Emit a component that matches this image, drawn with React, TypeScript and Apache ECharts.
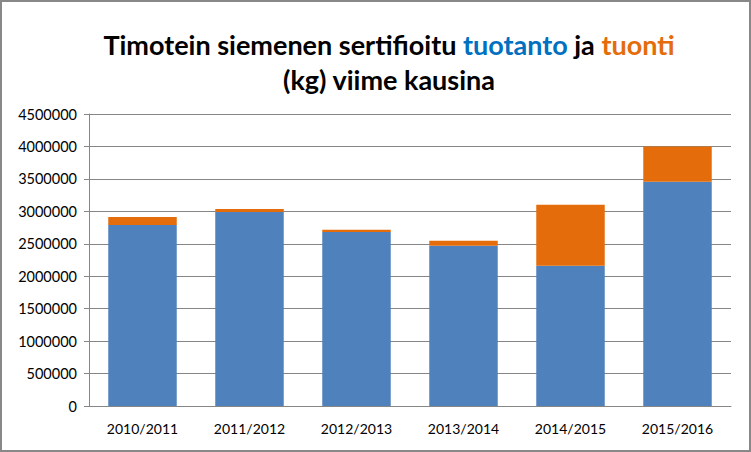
import React, { useEffect, useRef } from "react";
import * as echarts from "echarts";

const categories = ["2010/2011", "2011/2012", "2012/2013", "2013/2014", "2014/2015", "2015/2016"];
const tuotanto = [2790000, 2990000, 2680000, 2470000, 2160000, 3455000];
const tuonti = [122000, 45000, 36000, 77000, 940000, 545000];

const FONT = "Lato";

export default function App() {
  const ref = useRef<HTMLDivElement>(null);
  useEffect(() => {
    document.body.style.margin = "0";
    const chart = echarts.init(ref.current!, null, { renderer: "svg" });
    const titleStyle = { fontFamily: FONT, fontWeight: "bold", fontSize: 27, lineHeight: 35 };
    chart.setOption({
      animation: false,
      backgroundColor: "#ffffff",
      grid: { left: 89, right: 20, top: 114, bottom: 46, containLabel: false },
      xAxis: {
        type: "category",
        data: categories,
        axisLine: { show: true, lineStyle: { color: "#868686", width: 1 } },
        axisTick: { show: false },
        axisLabel: { color: "#000000", fontFamily: FONT, fontSize: 14, margin: 15 },
      },
      yAxis: {
        type: "value",
        min: 0,
        max: 4500000,
        interval: 500000,
        axisLine: { show: true, lineStyle: { color: "#868686", width: 1 } },
        axisTick: { show: true, length: 5, lineStyle: { color: "#868686" } },
        axisLabel: {
          color: "#000000",
          fontFamily: FONT,
          fontSize: 14.5,
          margin: 12,
          formatter: (v: number) => String(v),
        },
        splitLine: { show: true, lineStyle: { color: "#868686", width: 1 } },
      },
      series: [
        {
          name: "tuotanto",
          type: "bar",
          stack: "total",
          data: tuotanto,
          barWidth: "64%",
          itemStyle: { color: "#4F81BD" },
        },
        {
          name: "tuonti",
          type: "bar",
          stack: "total",
          data: tuonti,
          barWidth: "64%",
          itemStyle: { color: "#E46C0A" },
        },
      ],
      graphic: [
        {
          type: "rect",
          shape: { x: 1, y: 1, width: 749, height: 450 },
          style: { fill: "none", stroke: "#888888", lineWidth: 2 },
          silent: true,
        },
        {
          type: "text",
          x: 389,
          y: 27,
          style: {
            text: "{a|Timotein siemenen sertifioitu }{b|tuotanto}{a| ja }{c|tuonti}\n{a|(kg) viime kausina}",
            align: "center",
            verticalAlign: "top",
            rich: {
              a: { ...titleStyle, fill: "#000000" },
              b: { ...titleStyle, fill: "#0070C0" },
              c: { ...titleStyle, fill: "#E46C0A" },
            },
          },
        },
      ],
    });
    return () => chart.dispose();
  }, []);
  return <div ref={ref} style={{ width: 751, height: 452 }} />;
}
